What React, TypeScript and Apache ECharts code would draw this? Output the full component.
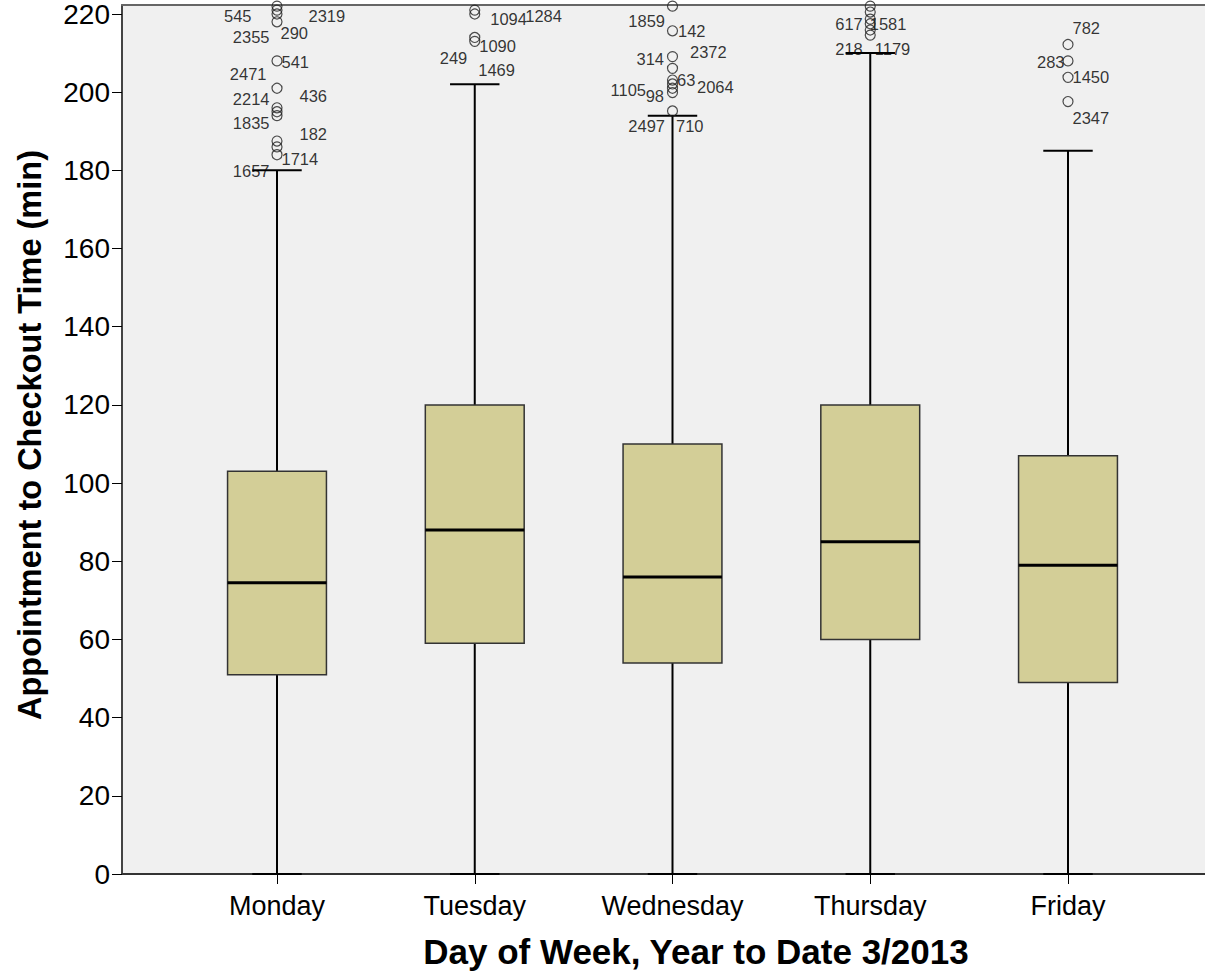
import React, { useEffect, useRef } from "react";
import * as echarts from "echarts";

// ---- data ----
const days = ["Monday", "Tuesday", "Wednesday", "Thursday", "Friday"];
const whiskerLow = [0, 0, 0, 0, 0];
const q1 = [51, 59, 54, 60, 49];
const medians = [74.5, 88, 76, 85, 79];
const q3 = [103, 120, 110, 120, 107];
const whiskerHigh = [180, 202, 194, 210, 185];
const yTicks = [0, 20, 40, 60, 80, 100, 120, 140, 160, 180, 200, 220];

const mondayOutliers = [222, 221, 220, 218, 208, 201, 196, 195, 194, 187.5, 186, 184];
const tuesdayOutliers = [221, 220, 214, 213];
const wednesdayOutliers = [222, 215.7, 209.1, 206.1, 203.1, 202.1, 201, 199.9, 195.2];
const thursdayOutliers = [222, 220.5, 218.7, 217.5, 215.9, 214.6];
const fridayOutliers = [212.2, 208, 203.8, 197.6];

// outlier case ids and the height (in minutes) where each id label sits
const mondayIds: [string, number][] = [
  ["545", 219.3], ["2319", 219.3], ["2355", 214.1], ["290", 215.1], ["541", 207.7],
  ["2471", 204.6], ["436", 199], ["2214", 198], ["1835", 191.9], ["182", 189.3],
  ["1714", 182.9], ["1657", 179.8],
];
const tuesdayIds: [string, number][] = [
  ["1094", 218.5], ["1284", 219.3], ["1090", 211.6], ["249", 208.7], ["1469", 205.5],
];
const wednesdayIds: [string, number][] = [
  ["1859", 218], ["142", 215.4], ["314", 208.4], ["2372", 210.1], ["63", 203.1],
  ["2064", 201.2], ["1105", 200.4], ["98", 198.9], ["2497", 191.2], ["710", 191.2],
];
const thursdayIds: [string, number][] = [
  ["617", 217.2], ["1581", 217.2], ["218", 210.8], ["1179", 210.8],
];
const fridayIds: [string, number][] = [
  ["782", 216.3], ["283", 207.7], ["1450", 203.8], ["2347", 193.3],
];

// ---- layout (horizontal pixel offset of each id label from the box centre) ----
const mondayDx = [-25, 32, -7, 4, 5, -10, 23, -7, -7, 23, 5, -7];
const tuesdayDx = [16, 51, 5, -7, 4];
const wednesdayDx = [-7, 6, -8, 18, 5, 25, -26, -8, -7, 4];
const thursdayDx = [-7, 0, -7, 5];
const fridayDx = [5, -3, 5, 5];

const FONT = '"Liberation Sans", Arial, sans-serif';

export default function App() {
  const ref = useRef<HTMLDivElement>(null);

  useEffect(() => {
    if (!ref.current) return;
    const chart = echarts.init(ref.current, null, { renderer: "svg" });

    const outlierGroups = [mondayOutliers, tuesdayOutliers, wednesdayOutliers, thursdayOutliers, fridayOutliers];
    const idGroups = [mondayIds, tuesdayIds, wednesdayIds, thursdayIds, fridayIds];
    const dxGroups = [mondayDx, tuesdayDx, wednesdayDx, thursdayDx, fridayDx];

    const boxData = days.map((_, i) => [i, whiskerLow[i], q1[i], medians[i], q3[i], whiskerHigh[i]]);
    const outlierData: number[][] = [];
    outlierGroups.forEach((g, i) => g.forEach((v) => outlierData.push([i, v])));
    const labelData: any[] = [];
    idGroups.forEach((g, i) =>
      g.forEach(([id, v], k) => {
        const dx = dxGroups[i][k];
        labelData.push({
          value: [i, v],
          label: {
            show: true,
            formatter: id,
            position: [dx, 0],
            align: dx < 0 ? "right" : "left",
            verticalAlign: "middle",
          },
        });
      })
    );

    const YMAX = 222.3;

    const option: any = {
      animation: false,
      backgroundColor: "#ffffff",
      grid: [
        { left: 122, top: 5, width: 1100, height: 869, show: true, backgroundColor: "#F0F0F0", borderWidth: 0 },
        { left: 178.125, top: 5, width: 988.75, height: 869 },
      ],
      xAxis: [
        {
          gridIndex: 0, type: "value", min: 0, max: 1,
          axisLine: { show: true, onZero: false, lineStyle: { color: "#333", width: 2 } },
          axisTick: { show: false }, axisLabel: { show: false }, splitLine: { show: false },
        },
        {
          gridIndex: 0, type: "value", position: "top", min: 0, max: 1,
          axisLine: { show: true, onZero: false, lineStyle: { color: "#666", width: 2 } },
          axisTick: { show: false }, axisLabel: { show: false }, splitLine: { show: false },
        },
        {
          gridIndex: 1, type: "category", data: days,
          axisLine: { show: false, onZero: false },
          axisTick: { show: true, alignWithLabel: true, length: 10, lineStyle: { color: "#000", width: 1 } },
          axisLabel: { color: "#000", fontSize: 27, fontFamily: FONT, margin: 18 },
          splitLine: { show: false },
        },
      ],
      yAxis: [
        {
          gridIndex: 0, type: "value", min: 0, max: YMAX,
          axisLine: { show: true, onZero: false, lineStyle: { color: "#444", width: 2 } },
          axisTick: { show: true, length: 10, customValues: yTicks, lineStyle: { color: "#000", width: 1 } },
          axisLabel: { customValues: yTicks, color: "#000", fontSize: 28, fontFamily: FONT, margin: 12 },
          splitLine: { show: false },
        },
        { gridIndex: 1, type: "value", min: 0, max: YMAX, show: false, splitLine: { show: false } },
      ],
      series: [
        {
          type: "scatter", xAxisIndex: 2, yAxisIndex: 1, z: 1, silent: true,
          symbol: "circle", symbolSize: 1,
          itemStyle: { color: "rgba(0,0,0,0)" },
          label: { show: true, color: "#000", fontSize: 16.5, fontFamily: FONT },
          data: labelData,
        },
        {
          type: "custom", xAxisIndex: 2, yAxisIndex: 1, z: 2, silent: true,
          encode: { x: 0, y: [1, 2, 3, 4, 5] },
          data: boxData,
          renderItem: (params: any, api: any) => {
            const i = api.value(0);
            const lo = api.value(1), a = api.value(2), m = api.value(3), b = api.value(4), hi = api.value(5);
            const band = api.size([1, 0])[0];
            const bw = band * 0.5;
            const cx = api.coord([i, m])[0];
            const Y = (v: number) => api.coord([i, v])[1];
            const ls = { stroke: "#000", lineWidth: 2 };
            return {
              type: "group",
              children: [
                { type: "line", shape: { x1: cx, y1: Y(b), x2: cx, y2: Y(hi) }, style: ls },
                { type: "line", shape: { x1: cx, y1: Y(a), x2: cx, y2: Y(lo) }, style: ls },
                { type: "line", shape: { x1: cx - bw / 4, y1: Y(hi), x2: cx + bw / 4, y2: Y(hi) }, style: ls },
                { type: "line", shape: { x1: cx - bw / 4, y1: Y(lo), x2: cx + bw / 4, y2: Y(lo) }, style: ls },
                {
                  type: "rect",
                  shape: { x: cx - bw / 2, y: Y(b), width: bw, height: Y(a) - Y(b) },
                  style: { fill: "#D3CE97", stroke: "#333", lineWidth: 1.5 },
                },
                { type: "line", shape: { x1: cx - bw / 2, y1: Y(m), x2: cx + bw / 2, y2: Y(m) }, style: { stroke: "#000", lineWidth: 3 } },
              ],
            };
          },
        },
        {
          type: "scatter", xAxisIndex: 2, yAxisIndex: 1, z: 3, silent: true,
          symbol: "circle", symbolSize: 10,
          itemStyle: { color: "rgba(0,0,0,0)", borderColor: "#222", borderWidth: 1.2 },
          data: outlierData,
        },
      ],
      graphic: [
        {
          type: "text", x: 696, y: 951, z: 10,
          style: {
            text: "Day of Week, Year to Date 3/2013",
            font: `bold 35px ${FONT}`, fill: "#000",
            textAlign: "center", textVerticalAlign: "middle", align: "center", verticalAlign: "middle",
          },
        },
        {
          type: "text", x: 30, y: 435, rotation: Math.PI / 2, z: 10,
          style: {
            text: "Appointment to Checkout Time (min)",
            font: `bold 32.5px ${FONT}`, fill: "#000",
            textAlign: "center", textVerticalAlign: "middle", align: "center", verticalAlign: "middle",
          },
        },
      ],
    };

    chart.setOption(option);
    return () => chart.dispose();
  }, []);

  return (
    <div
      ref={ref}
      style={{ position: "fixed", left: 0, top: 0, width: 1205, height: 971 }}
    />
  );
}
